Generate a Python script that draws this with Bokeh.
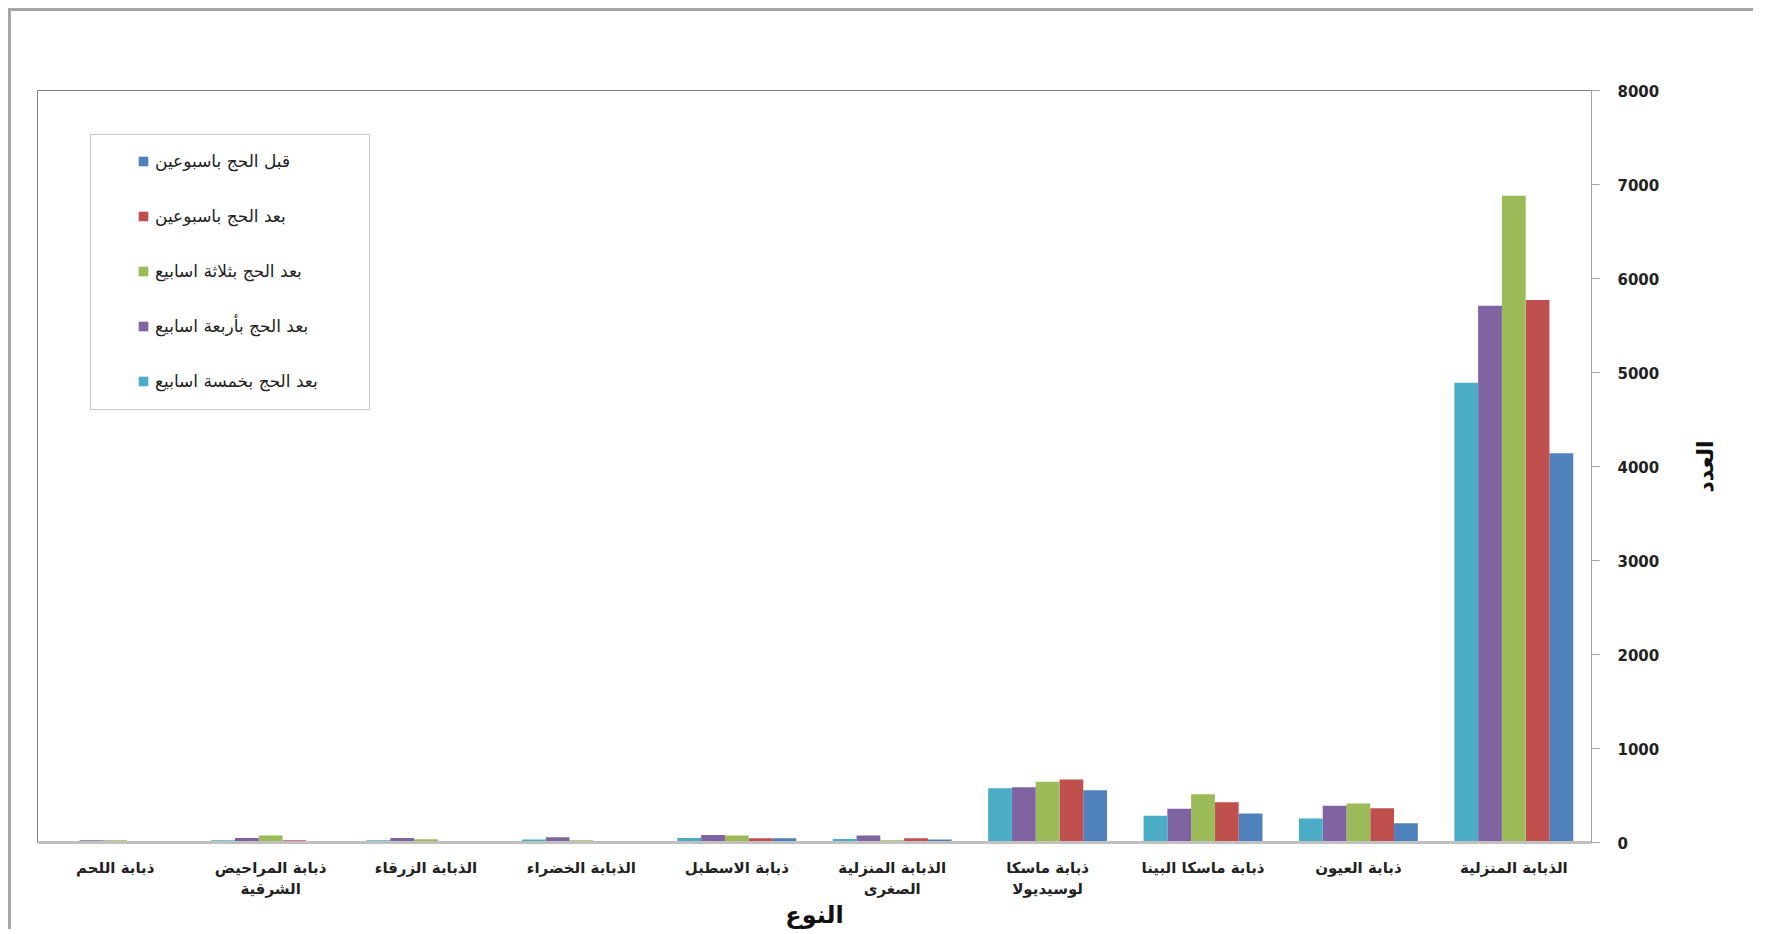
from bokeh.plotting import figure
from bokeh.models import (FactorRange, Range1d, ColumnDataSource, Legend, LegendItem,
                          BoxAnnotation, SingleIntervalTicker, Label)
from bokeh.transform import dodge
from bokeh.embed import file_html
from bokeh.resources import INLINE
import math

# ---- data (categories in displayed left-to-right order) ----
categories = ["ذبابة اللحم", "ذبابة المراحيض\nالشرقية", "الذبابة الزرقاء", "الذبابة الخضراء",
              "ذبابة الاسطبل", "الذبابة المنزلية\nالصغرى", "ذبابة ماسكا\nلوسيديولا",
              "ذبابة ماسكا البينا", "ذبابة العيون", "الذبابة المنزلية"]
before_2wk = [0, 8, 0, 0, 45, 32, 557, 309, 205, 4140]
after_2wk = [0, 25, 8, 10, 45, 45, 670, 429, 365, 5770]
after_3wk = [25, 74, 35, 25, 74, 25, 646, 514, 415, 6880]
after_4wk = [25, 49, 49, 57, 81, 74, 588, 358, 390, 5710]
after_5wk = [0, 25, 25, 32, 49, 38, 578, 284, 255, 4890]
series_labels = ["قبل الحج باسبوعين", "بعد الحج باسبوعين", "بعد الحج بثلاثة اسابيع",
                 "بعد الحج بأربعة اسابيع", "بعد الحج بخمسة اسابيع"]
x_title = "النوع"
y_title = "العدد"

colors = ["#4F81BD", "#C0504D", "#9BBB59", "#8064A2", "#4BACC6"]
offsets = [0.306, 0.153, 0.0, -0.153, -0.306]
bar_w = 0.153

source = ColumnDataSource(dict(cat=categories, s0=before_2wk, s1=after_2wk, s2=after_3wk,
                               s3=after_4wk, s4=after_5wk))

p = figure(width=1745, height=921, x_range=FactorRange(*categories), y_range=Range1d(0, 8000),
           y_axis_location="right", output_backend="svg", toolbar_location=None,
           min_border_left=26, min_border_right=165, min_border_top=79, min_border_bottom=90)
p.margin = (8, 0, 0, 8)
p.styles = {"border-left": "3px solid #a6a6a6", "border-top": "3px solid #a6a6a6"}
p.background_fill_color = "white"
p.border_fill_color = "white"
p.outline_line_color = "#7f7f7f"
p.outline_line_width = 1
p.xgrid.visible = False
p.ygrid.visible = False

renderers = []
for i, key in enumerate(["s0", "s1", "s2", "s3", "s4"]):
    r = p.vbar(x=dodge("cat", offsets[i], range=p.x_range), top=key, width=bar_w,
               source=source, fill_color=colors[i], line_color=None)
    renderers.append(r)

# x axis
xa = p.xaxis[0]
xa.axis_line_color = "#c0c0c0"
xa.axis_line_width = 3
xa.major_tick_line_color = None
xa.minor_tick_line_color = None
xa.major_label_text_font = "DejaVu Sans"
xa.major_label_text_font_style = "bold"
xa.major_label_text_font_size = "15px"
xa.major_label_text_color = "#222222"
xa.major_label_standoff = 10
xa.axis_label = x_title
xa.axis_label_text_font = "DejaVu Sans"
xa.axis_label_text_font_style = "bold"
xa.axis_label_text_font_size = "24px"
xa.axis_label_text_color = "#111111"
xa.axis_label_standoff = 0

# y axis (right)
ya = p.yaxis[0]
ya.ticker = SingleIntervalTicker(interval=1000)
ya.axis_line_color = "#a0a0a0"
ya.major_tick_line_color = "#a0a0a0"
ya.major_tick_in = 0
ya.major_tick_out = 8
ya.minor_tick_line_color = None
ya.major_label_text_font = "DejaVu Sans"
ya.major_label_text_font_style = "bold"
ya.major_label_text_font_size = "15px"
ya.major_label_text_color = "#222222"
ya.major_label_standoff = 18

# y axis title: rotated label in its own right-hand panel
ylab = Label(x=43, y=376, x_units="screen", y_units="screen", text=y_title,
             angle=math.pi / 2, text_align="center", text_baseline="middle",
             text_font="DejaVu Sans", text_font_style="bold", text_font_size="22px",
             text_color="#111111")
p.add_layout(ylab, "right")

# legend
items = [LegendItem(label=series_labels[i], renderers=[renderers[i]]) for i in range(5)]
legend = Legend(items=items, location=(100, 451), orientation="vertical",
                glyph_width=12, glyph_height=12, label_height=20, label_standoff=6,
                spacing=35, padding=0, margin=0, border_line_color=None,
                background_fill_alpha=0, label_text_font="DejaVu Sans",
                label_text_font_size="17px", label_text_color="#222222")
p.add_layout(legend, "center")

box = BoxAnnotation(left=53, right=332, bottom=433, top=708,
                    left_units="screen", right_units="screen",
                    bottom_units="screen", top_units="screen",
                    fill_alpha=0, line_color="#404040", line_width=1)
p.add_layout(box)

open("out.html", "w").write(file_html(p, INLINE))
